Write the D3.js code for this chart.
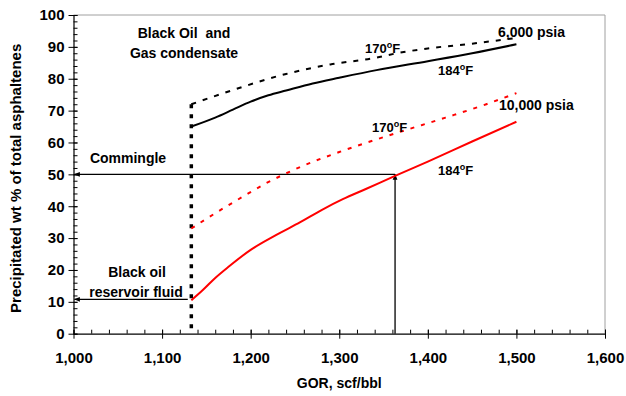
<!DOCTYPE html>
<html>
<head>
<meta charset="utf-8">
<script src="https://cdn.jsdelivr.net/npm/d3@7/dist/d3.min.js"></script>
<style>
  html, body { margin: 0; padding: 0; background: #fff; }
  svg { display: block; font-family: "Liberation Sans", Arial, sans-serif; font-weight: bold; }
  svg text { white-space: pre; }
  .tick text { font-family: "Liberation Sans", Arial, sans-serif; font-weight: bold; fill: #000; }
</style>
</head>
<body>
<svg id="chart" width="626" height="396"></svg>
<script>
// GOR (scf/bbl) vs. precipitated asphaltene fraction (wt %)
const gor6000_170 = [1133, 1175, 1240, 1290, 1340, 1365, 1400, 1450, 1500];
const wt6000_170  = [72,   76,   81.5, 84.5, 86.5, 88,   89.5, 91,   92.8];

const gor6000_184 = [1133, 1160, 1180, 1200, 1220, 1240, 1270, 1300, 1342, 1400, 1450, 1500];
const wt6000_184  = [65,   67.8, 70.3, 72.8, 74.8, 76.3, 78.5, 80.3, 82.7, 85.5, 88,   90.8];

const gor10000_170 = [1133, 1160, 1190, 1218, 1240, 1260, 1300, 1365, 1420, 1466, 1500];
const wt10000_170  = [33,   37.8, 42.8, 47.3, 50.3, 52.8, 57,   63,   67.8, 72,   75.5];

const gor10000_184 = [1133, 1146, 1160, 1175, 1200, 1229, 1256, 1280, 1304, 1330, 1363, 1400, 1450, 1500];
const wt10000_184  = [10.5, 13.7, 17.5, 21,   26.3, 31,   35,   38.8, 42.2, 45.4, 49.5, 54,   60.3, 66.5];

// Mixing point (black oil GOR) and commingled fluid readout
const blackOilGor = 1133;
const blackOilTop = 72;
const blackOilWt = 10.8;
const commingleGor = 1363;
const commingleWt = 50;

const xTicks = [1000, 1100, 1200, 1300, 1400, 1500, 1600];
const yTicks = [0, 10, 20, 30, 40, 50, 60, 70, 80, 90, 100];

const svg = d3.select("#chart");
const x = d3.scaleLinear().domain([1000, 1600]).range([73.5, 605]);
const y = d3.scaleLinear().domain([0, 100]).range([333.7, 15]);

// Plot frame: grey top/right edges
svg.append("path")
  .attr("d", `M${x(1000)},${y(100)}H${x(1600)}V${y(0)}`)
  .attr("fill", "none").attr("stroke", "#a0a0a0").attr("stroke-width", 1);

// Minor ticks (inside)
svg.append("g").attr("transform", `translate(${x(1000)},0)`)
  .call(d3.axisLeft(y).tickValues(d3.range(0, 101, 2)).tickSize(-4).tickFormat(""))
  .call(g => g.select(".domain").remove());
svg.append("g").attr("transform", `translate(0,${y(0)})`)
  .call(d3.axisBottom(x).tickValues(d3.range(1000, 1601, 20)).tickSize(-4).tickFormat(""))
  .call(g => g.select(".domain").remove());

// Major axes, ticks crossing the axis line
const yAxis = svg.append("g").attr("transform", `translate(${x(1000)},0)`)
  .call(d3.axisLeft(y).tickValues(yTicks).tickSize(5).tickPadding(4).tickSizeOuter(0))
  .call(g => g.selectAll(".tick line").attr("x1", 4))
  .call(g => g.selectAll(".tick text").attr("font-size", 15));
yAxis.select(".domain").attr("stroke-width", 1.2);

const xAxis = svg.append("g").attr("transform", `translate(0,${y(0)})`)
  .call(d3.axisBottom(x).tickValues(xTicks).tickSize(5).tickPadding(14).tickSizeOuter(0)
    .tickFormat(d3.format(",")))
  .call(g => g.selectAll(".tick line").attr("y1", -4))
  .call(g => g.selectAll(".tick text").attr("font-size", 15));
xAxis.select(".domain").attr("stroke-width", 1.2);

// Axis titles
svg.append("text")
  .attr("transform", `translate(21,${(y(0) + y(100)) / 2 + 4}) rotate(-90)`)
  .attr("text-anchor", "middle").attr("font-size", 15)
  .text("Precipitated wt % of total asphaltenes");
svg.append("text")
  .attr("x", (x(1000) + x(1600)) / 2).attr("y", 388)
  .attr("text-anchor", "middle").attr("font-size", 14)
  .text("GOR, scf/bbl");

// Arrow marker
const defs = svg.append("defs");
defs.append("marker").attr("id", "arrow")
  .attr("viewBox", "0 0 10 10").attr("refX", 9).attr("refY", 5)
  .attr("markerWidth", 6).attr("markerHeight", 6).attr("orient", "auto-start-reverse")
  .attr("markerUnits", "userSpaceOnUse")
  .append("path").attr("d", "M0,1 L10,5 L0,9 Z").attr("fill", "#000");

// Readout lines
svg.append("line")
  .attr("x1", x(commingleGor)).attr("y1", y(commingleWt))
  .attr("x2", x(1000) + 1).attr("y2", y(commingleWt))
  .attr("stroke", "#000").attr("stroke-width", 1.3).attr("marker-end", "url(#arrow)");
svg.append("line")
  .attr("x1", x(commingleGor)).attr("y1", y(0))
  .attr("x2", x(commingleGor)).attr("y2", y(commingleWt))
  .attr("stroke", "#000").attr("stroke-width", 1.3).attr("marker-end", "url(#arrow)");
svg.append("line")
  .attr("x1", x(blackOilGor - 4)).attr("y1", y(blackOilWt))
  .attr("x2", x(1000) + 1).attr("y2", y(blackOilWt))
  .attr("stroke", "#000").attr("stroke-width", 1.3).attr("marker-end", "url(#arrow)");

// Vertical dotted line at the black oil GOR
svg.append("line")
  .attr("x1", x(blackOilGor)).attr("y1", y(blackOilTop))
  .attr("x2", x(blackOilGor)).attr("y2", y(0))
  .attr("stroke", "#000").attr("stroke-width", 3.5).attr("stroke-dasharray", "4,6");

// Curves
const line = d3.line().x(d => x(d[0])).y(d => y(d[1])).curve(d3.curveMonotoneX);
const series = [
  { g: gor6000_170, v: wt6000_170, color: "#000", dash: "5,7" },
  { g: gor6000_184, v: wt6000_184, color: "#000", dash: null },
  { g: gor10000_170, v: wt10000_170, color: "#ff0000", dash: "4,7" },
  { g: gor10000_184, v: wt10000_184, color: "#ff0000", dash: null }
];
series.forEach(s => {
  svg.append("path")
    .datum(d3.zip(s.g, s.v))
    .attr("d", line)
    .attr("fill", "none").attr("stroke", s.color).attr("stroke-width", 2)
    .attr("stroke-dasharray", s.dash);
});

// Annotations
function label(txt, xx, yy, size, anchor) {
  svg.append("text").attr("x", xx).attr("y", yy).attr("font-size", size)
    .attr("text-anchor", anchor || "middle").text(txt);
}
function tempLabel(t, xx, yy) {
  const el = svg.append("text").attr("x", xx).attr("y", yy).attr("font-size", 13);
  el.append("tspan").text(t);
  el.append("tspan").attr("font-size", 9).attr("dy", -5).text("o");
  el.append("tspan").attr("dy", 5).text("F");
}
label("Black Oil  and", 184, 38, 14);
label("Gas condensate", 184, 58, 14);
label("Commingle", 128, 163, 14);
label("Black oil", 137, 277, 14);
label("reservoir fluid", 136, 297, 14);
label("6,000 psia", 498, 37, 14, "start");
label("10,000 psia", 499, 110, 14, "start");
tempLabel("170", 365, 53);
tempLabel("184", 438, 75);
tempLabel("170", 372, 132);
tempLabel("184", 438, 175);
</script>
</body>
</html>
